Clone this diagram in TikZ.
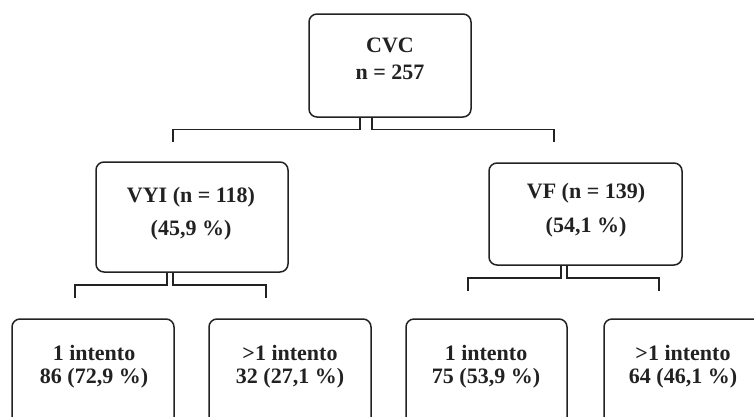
\documentclass[tikz,border=0pt]{standalone}
\usepackage{fontspec}
\setmainfont{Liberation Serif}
\usetikzlibrary{calc}
\definecolor{ink}{HTML}{222222}
\tikzset{
  box/.style={draw=ink, line width=1.5pt, rounded corners=8pt, inner sep=0pt},
  txt/.style={font=\fontsize{22}{26}\selectfont\bfseries, text=ink, inner sep=0pt},
  conn/.style={draw=ink, line width=1.5pt}
}
\begin{document}
\begin{tikzpicture}[x=1pt,y=-1pt]
\useasboundingbox (0,0) rectangle (754,416);
\clip (0,0) rectangle (754,416);
% boxes
\node[box, minimum width=162pt, minimum height=103pt] (cvc) at (390,65.5) {};
\node[box, minimum width=192pt, minimum height=110pt] (vyi) at (192,217) {};
\node[box, minimum width=193pt, minimum height=102pt] (vf) at (585.5,214) {};
\node[box, minimum width=162pt, minimum height=110pt] (b1) at (93,374) {};
\node[box, minimum width=162pt, minimum height=110pt] (b2) at (290,374) {};
\node[box, minimum width=161pt, minimum height=110pt] (b3) at (486.5,374) {};
\node[box, minimum width=162pt, minimum height=110pt] (b4) at (685,374) {};
% texts
\node[txt] (t0a) at (390,45) {CVC};
\node[txt] (t0b) at (390,72) {n = 257};
\node[txt] (t1a) at (191,197) {VYI (n = 118)};
\node[txt] (t1b) at (191,230) {(45,9 \%)};
\node[txt] (t2a) at (586,193) {VF (n = 139)};
\node[txt] (t2b) at (586,227) {(54,1 \%)};
\node[txt] (t3a) at (94,353) {1 intento};
\node[txt] (t3b) at (94,378) {86 (72,9 \%)};
\node[txt] (t4a) at (290,353) {>1 intento};
\node[txt] (t4b) at (290,378) {32 (27,1 \%)};
\node[txt] (t5a) at (486,353) {1 intento};
\node[txt] (t5b) at (486,378) {75 (53,9 \%)};
\node[txt] (t6a) at (683,353) {>1 intento};
\node[txt] (t6b) at (683,378) {64 (46,1 \%)};
% free ends
\coordinate (e1) at (173,142);
\coordinate (e2) at (554,142);
\coordinate (e3) at (75,298);
\coordinate (e4) at (266,298);
\coordinate (e5) at (468,291);
\coordinate (e6) at (659,291);
% connectors
\draw[conn] ($(cvc.south)+(-30,0)$) -- ++(0,11.5) -| (e1);
\draw[conn] ($(cvc.south)+(-18,0)$) -- ++(0,11.5) -| (e2);
\draw[conn] ($(vyi.south)+(-25,0)$) -- ++(0,12) -| (e3);
\draw[conn] ($(vyi.south)+(-19,0)$) -- ++(0,12) -| (e4);
\draw[conn] ($(vf.south)+(-24.5,0)$) -- ++(0,12) -| (e5);
\draw[conn] ($(vf.south)+(-18.5,0)$) -- ++(0,12) -| (e6);
\end{tikzpicture}
\end{document}
